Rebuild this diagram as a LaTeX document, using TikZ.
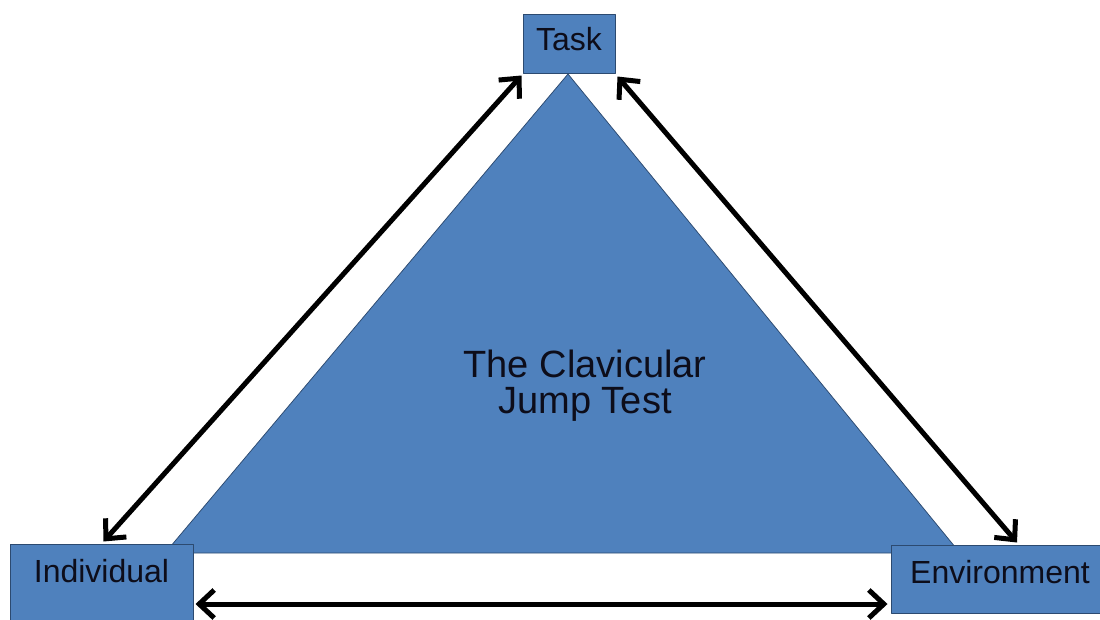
\documentclass[tikz,border=0pt]{standalone}
\usepackage{fontspec}
\setmainfont{Liberation Sans}
\usetikzlibrary{arrows.meta}
\definecolor{boxblue}{HTML}{4F81BD}
\definecolor{boxline}{HTML}{2C4A70}
\definecolor{textdark}{HTML}{0D0D1A}
\tikzset{
  box/.style={draw=boxline, fill=boxblue, line width=1pt, inner sep=0pt,
    text=textdark, font=\fontsize{32}{32}\selectfont, text height=23pt},
  dblarrow/.style={line width=5pt, {Straight Barb[length=15pt,width=28pt]}-{Straight Barb[length=15pt,width=28pt]}}
}
\begin{document}
\begin{tikzpicture}[x=1pt, y=-1pt, line join=round, line cap=round]
	\useasboundingbox (0,0) rectangle (1100,619);
	\clip (0,0) rectangle (1100,619);
	% the triangle behind the boxes
	\draw[fill=boxblue, draw=boxline, line width=0.75pt] (568,74)--(165,553)--(960,553)--cycle;
	\node[text=textdark, align=center, inner sep=0pt, font=\fontsize{38}{36}\selectfont] (jump) at (585,386) {The Clavicular\\Jump Test};
	% corner boxes
	\node[box, minimum width=92pt, minimum height=59pt, text depth=10pt] (task) at (569,43.5) {Task};
	\node[box, minimum width=183pt, minimum height=80pt, text depth=27pt] (ind) at (101.5,584) {Individual};
	\node[box, minimum width=218pt, minimum height=68pt, text depth=15pt] (env) at (1000,579) {Environment};
	% arrows
	\draw[dblarrow] ([shift={(-1pt,-2pt)}]task.south west) -- ([xshift=2pt,yshift=2pt]ind.north);
	\draw[dblarrow] ([shift={(2pt,-3pt)}]task.south east) -- ([xshift=17pt,yshift=2pt]env.north);
	\draw[dblarrow] ([shift={(2pt,-20pt)}]ind.east) -- ([shift={(-3pt,-25pt)}]env.west);
\end{tikzpicture}
\end{document}
